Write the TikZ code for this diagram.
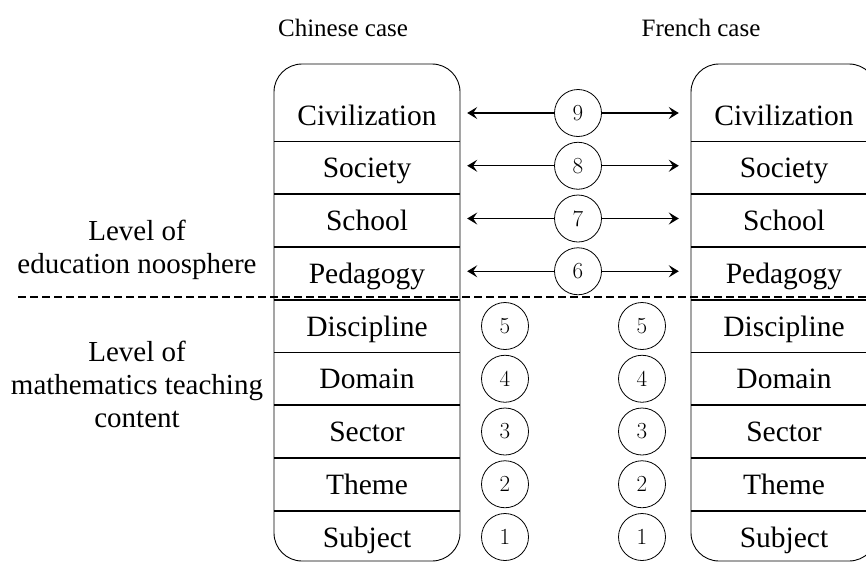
\documentclass[tikz,border=0pt]{standalone}
\usepackage{fontspec}
\newfontfamily\timesfont{Liberation Serif}
\usepackage{tikz}
\usetikzlibrary{arrows.meta,positioning,calc}

\tikzset{
    casebox/.style={draw, line width=0.9pt, rounded corners=28pt, minimum width=186pt, minimum height=497pt, inner sep=0pt},
    rowlabel/.style={font=\timesfont\fontsize{29.5}{30}\selectfont, minimum width=186pt, minimum height=52.75pt, inner sep=0pt, text height=20pt, text depth=0pt},
    sideline/.style={font=\timesfont\fontsize{29}{33}\selectfont, align=center},
    casetitle/.style={font=\timesfont\fontsize{25}{28}\selectfont},
    numcirc/.style={circle, draw, line width=0.8pt, minimum size=47pt, inner sep=0pt, fill=white, font=\rmfamily\fontsize{23}{24}\selectfont},
    rowsep/.style={line width=1.8pt},
    pairarrow/.style={line width=1.4pt, -{Stealth[length=10pt,width=12pt,inset=4pt]}},
}

\begin{document}
\begin{tikzpicture}[x=1pt,y=-1pt]
    \useasboundingbox (0,0) rectangle (866,562);
    % titles
    \node[casetitle] (cntitle) at (343,28) {Chinese case};
    \node[casetitle] (frtitle) at (701,28) {French case};
    % the two columns
    \node[casebox] (cnbox) at (367,312.5) {};
    \node[casebox] (frbox) at (784,312.5) {};
    % rows, numbered from Subject (1) to Civilization (9)
    \foreach \n/\lab in {1/Subject,2/Theme,3/Sector,4/Domain,5/Discipline,6/Pedagogy,7/School,8/Society,9/Civilization} {
        \node[rowlabel] (cn\n) at (367,{537-52.75*(\n-1)}) {\lab};
        \node[rowlabel] (fr\n) at (784,{537-52.75*(\n-1)}) {\lab};
    }
    \foreach \n in {2,...,9} {
        \draw[rowsep] (cn\n.south west) -- (cn\n.south east);
        \draw[rowsep] (fr\n.south west) -- (fr\n.south east);
    }
    % level separator
    \coordinate (dashL) at (18,297);
    \coordinate (dashR) at (870,297);
    \draw[line width=1.6pt, dash pattern=on 8pt off 4pt] (dashL) -- (dashR);
    % side labels
    \node[sideline] (noos) at (137,250) {Level of\\education noosphere};
    \node[sideline] (maths) at (137,384) {Level of\\mathematics teaching\\content};
    % shared levels
    \foreach \n in {6,...,9} {
        \node[numcirc] (m\n) at (578,{537-52.75*(\n-1)-2}) {\n};
        \draw[pairarrow] (m\n) -- ([xshift=7pt]cn\n.east |- m\n);
        \draw[pairarrow] (m\n) -- ([xshift=-12pt]fr\n.west |- m\n);
    }
    % separate levels
    \foreach \n in {1,...,5} {
        \node[numcirc] (l\n) at (505,{537-52.75*(\n-1)}) {\n};
        \node[numcirc] (r\n) at (642,{537-52.75*(\n-1)}) {\n};
    }
\end{tikzpicture}
\end{document}
